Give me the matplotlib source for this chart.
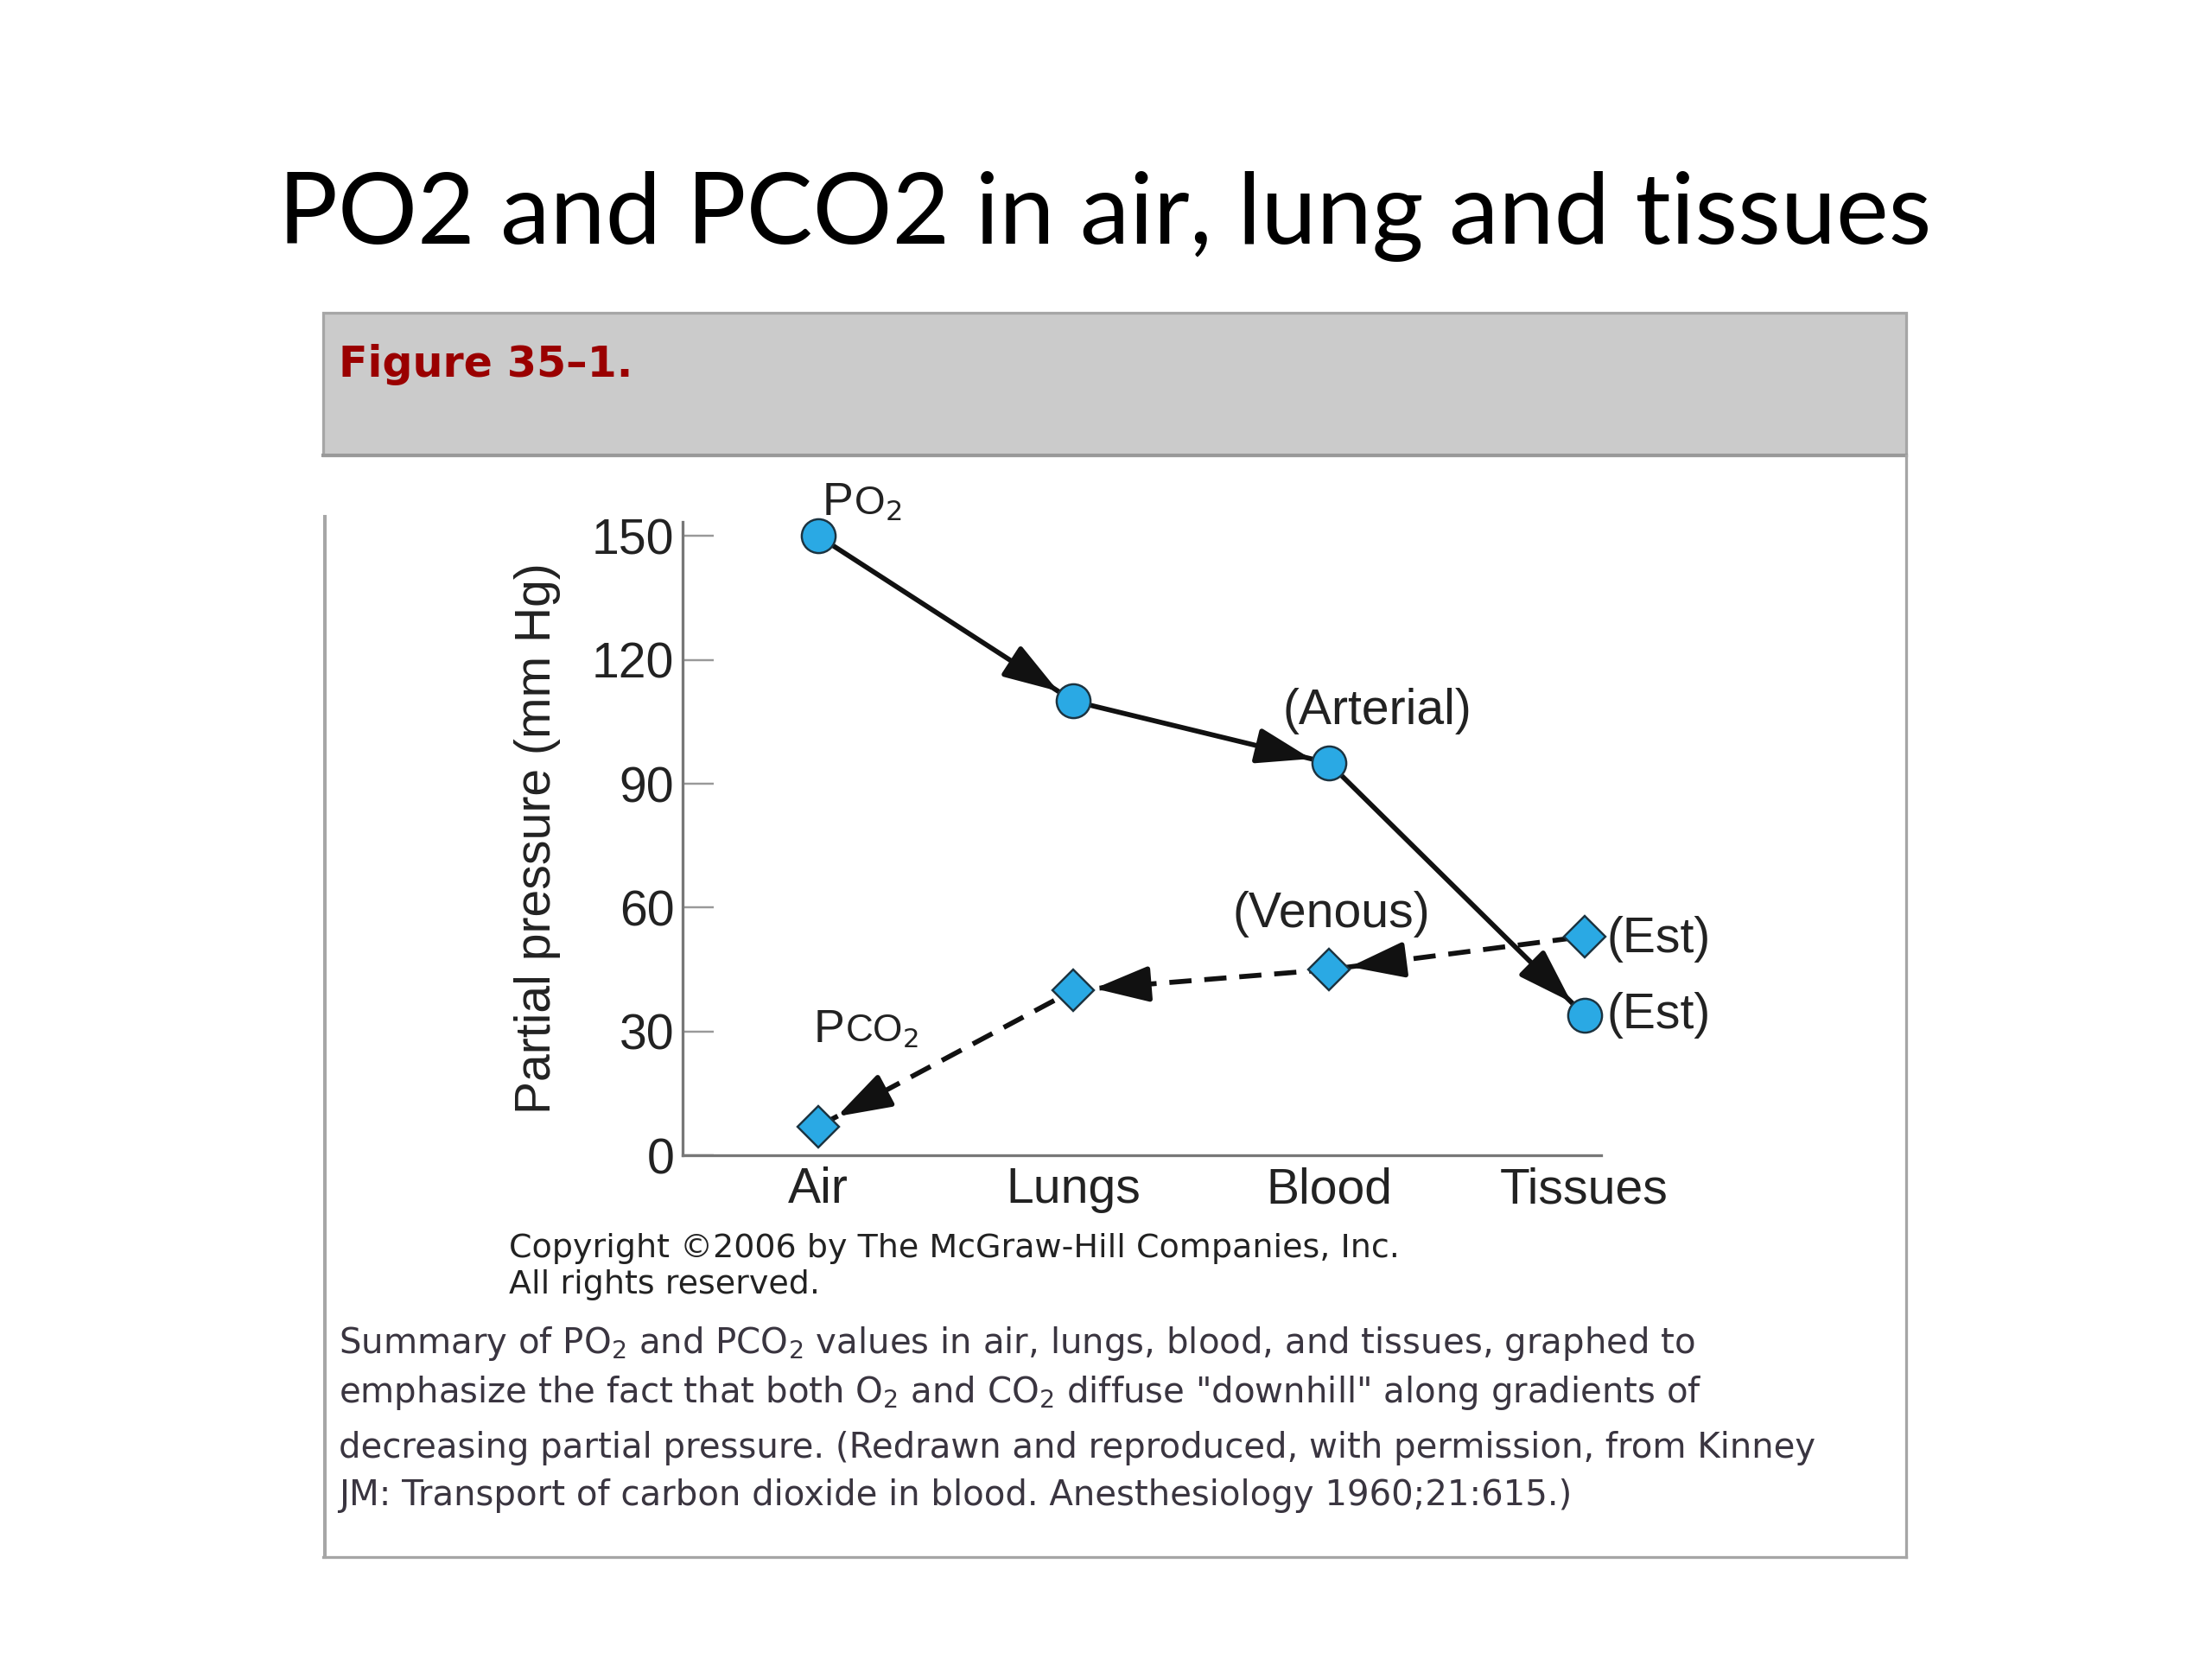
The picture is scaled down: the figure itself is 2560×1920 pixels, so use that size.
import matplotlib
matplotlib.use('Agg')
import matplotlib.pyplot as plt
import numpy as np
from matplotlib.lines import Line2D
from matplotlib.patches import Rectangle

# values (mm Hg)
categories = ['Air', 'Lungs', 'Blood', 'Tissues']
po2 = [150, 110, 95, 34]
pco2 = [7, 40, 45, 53]
y_ticks = [0, 30, 60, 90, 120, 150]

# layout is worked out on a 1568 x 1176 grid and scaled up
W, H = 1568, 1176
DPI = 72 * 2560 / W


def fx(x):
    return x / W


def fy(y):
    return 1 - y / H


fig = plt.figure(figsize=(2560 / DPI, 1920 / DPI), dpi=DPI)
fig.patch.set_facecolor('white')

# slide title
fig.text(fx(783), fy(173), 'PO2 and PCO2 in air, lung and tissues',
         family='Lato', fontsize=70.5, ha='center', va='baseline', color='black')

# figure frame with grey header
border = '#a6a6a6'
fig.add_artist(Rectangle((fx(229), fy(323)), fx(1351) - fx(229), fy(222) - fy(323),
                         transform=fig.transFigure, facecolor='#cbcbcb',
                         edgecolor=border, lw=2))
fig.add_artist(Line2D([fx(229), fx(1351)], [fy(323), fy(323)], color='#999999', lw=2.5))
fig.add_artist(Line2D([fx(1351), fx(1351)], [fy(323), fy(1104)], color=border, lw=2))
fig.add_artist(Line2D([fx(229), fx(1351)], [fy(1104), fy(1104)], color=border, lw=2))
fig.add_artist(Line2D([fx(230), fx(230)], [fy(366), fy(1104)], color=border, lw=2.5))

fig.text(fx(240), fy(267), 'Figure 35\u20131.', family='DejaVu Sans', fontweight='bold',
         fontsize=30, color='#9a0000', ha='left', va='baseline')

# chart
ax = fig.add_axes([fx(484), fy(819), fx(1135) - fx(484), fy(370) - fy(819)])
ax.set_xlim(-0.53, 3.066)
ax.set_ylim(0, 153.4)
ax.set_facecolor('none')
for s in ['top', 'right']:
    ax.spines[s].set_visible(False)
for s in ['left', 'bottom']:
    ax.spines[s].set_color('#777777')
    ax.spines[s].set_linewidth(2)

chart_font = 'Liberation Sans'
x = list(range(len(categories)))
ax.set_yticks(y_ticks)
ax.set_yticklabels([str(v) for v in y_ticks], family=chart_font, fontsize=35, color='#222222')
ax.tick_params(axis='y', direction='in', length=22, width=1.5, color='#999999', pad=6)
ax.set_xticks(x)
ax.set_xticklabels(categories, family=chart_font, fontsize=35, color='#222222')
ax.tick_params(axis='x', which='major', length=0, pad=8)
ax.set_xticks(x[1:], minor=True)
ax.tick_params(axis='x', which='minor', direction='in', length=20, width=1.5, color='#999999')
ax.set_ylabel('Partial pressure (mm Hg)', family=chart_font, fontsize=35,
              color='#222222', labelpad=22)

blue = '#2aa9e4'
edge = '#1c3340'
ink = '#111111'

ax.plot(x, po2, color=ink, lw=3.5, zorder=2)
ax.plot(x, pco2, color=ink, lw=3.5, dashes=(4.5, 2.6), zorder=2)


def head(x0, y0, x1, y1, gap):
    # solid arrow head pointing from (x0, y0) to (x1, y1), stopping short of the marker
    p0 = ax.transData.transform((x0, y0))
    p1 = ax.transData.transform((x1, y1))
    d = (p1 - p0) / np.hypot(*(p1 - p0))
    back = gap + 38
    ax.annotate('', xy=(x1, y1), xytext=(-d[0] * back, -d[1] * back),
                textcoords='offset points',
                arrowprops=dict(arrowstyle='-|>,head_length=0.55,head_width=0.18',
                                mutation_scale=60, lw=3.5, color=ink,
                                shrinkA=0, shrinkB=gap), zorder=4)


# PO2 runs from air down to tissues, PCO2 from tissues back to air
for i in range(len(x) - 1):
    head(x[i], po2[i], x[i + 1], po2[i + 1], 13)
for i in range(len(x) - 1, 0, -1):
    head(x[i], pco2[i], x[i - 1], pco2[i - 1], 15)

ax.plot(x, po2, ls='none', marker='o', ms=24, mfc=blue, mec=edge, mew=1.5,
        zorder=5, clip_on=False)
ax.plot(x, pco2, ls='none', marker='D', ms=21, mfc=blue, mec=edge, mew=1.5,
        zorder=5, clip_on=False)

lab = dict(textcoords='offset points', family=chart_font, fontsize=35,
           color='#222222', va='center', ha='left')
ax.annotate('(Arterial)', xy=(x[2], po2[2]), xytext=(-33, 37), **lab)
ax.annotate('(Venous)', xy=(x[2], pco2[2]), xytext=(-68, 39), **lab)
ax.annotate('(Est)', xy=(x[3], pco2[3]), xytext=(16, -2), **lab)
ax.annotate('(Est)', xy=(x[3], po2[3]), xytext=(16, 0), **lab)

# PO2 / PCO2 series names, with small-cap style letters after the P
name = dict(textcoords='offset points', family=chart_font, color='#222222',
            va='baseline', ha='left')
ax.annotate('P', xy=(x[0], po2[0]), xytext=(3, 15), fontsize=33, **name)
ax.annotate(r'O$_2$', xy=(x[0], po2[0]), xytext=(25, 15), fontsize=28, **name)
ax.annotate('P', xy=(x[0], pco2[0]), xytext=(-3, 60), fontsize=33, **name)
ax.annotate(r'CO$_2$', xy=(x[0], pco2[0]), xytext=(19, 60), fontsize=27, **name)

# copyright and caption
fig.text(fx(361), fy(891), 'Copyright \u00a92006 by The McGraw-Hill Companies, Inc.',
         family='DejaVu Sans', fontsize=23.3, color='#222222', ha='left', va='baseline')
fig.text(fx(361), fy(917), 'All rights reserved.',
         family='DejaVu Sans', fontsize=23.3, color='#222222', ha='left', va='baseline')

caption = [
    (959, r'Summary of PO$_2$ and PCO$_2$ values in air, lungs, blood, and tissues, graphed to'),
    (994, r'emphasize the fact that both O$_2$ and CO$_2$ diffuse "downhill" along gradients of'),
    (1033, 'decreasing partial pressure. (Redrawn and reproduced, with permission, from Kinney'),
    (1067, 'JM: Transport of carbon dioxide in blood. Anesthesiology 1960;21:615.)'),
]
for yy, line in caption:
    fig.text(fx(240), fy(yy), line, family='DejaVu Sans', fontsize=24.7,
             color='#3a3540', ha='left', va='baseline')

fig.savefig('out.png', dpi=DPI, facecolor='white')
